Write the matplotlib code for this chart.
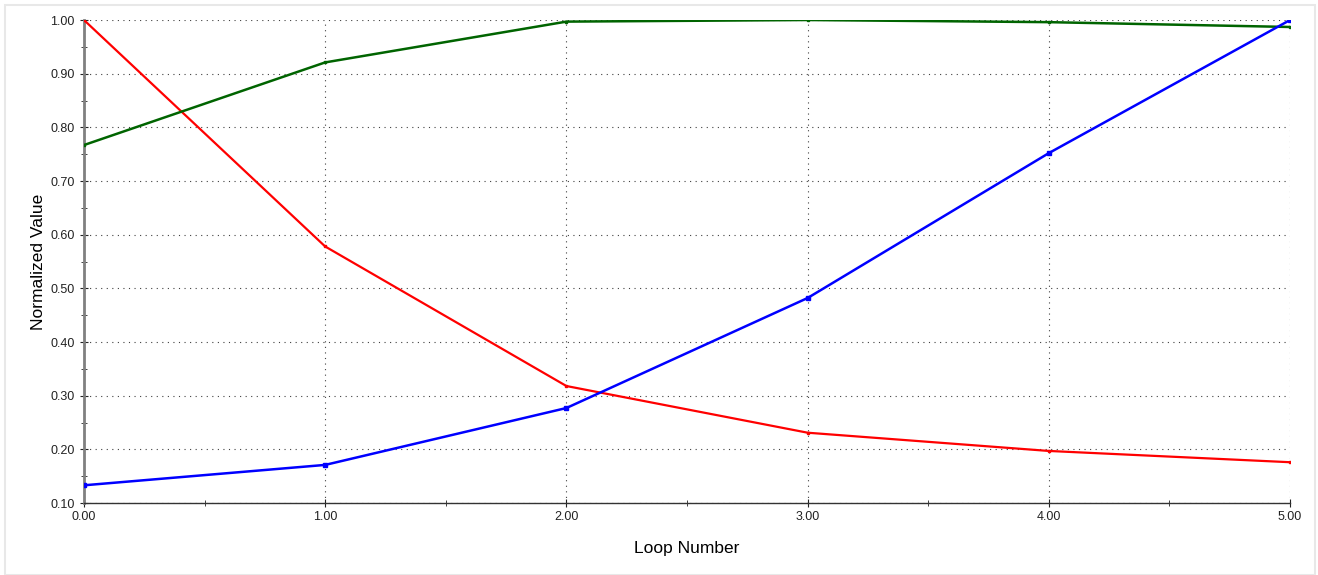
import numpy as np
import matplotlib.pyplot as plt
from matplotlib.ticker import MultipleLocator, FormatStrFormatter
from matplotlib.patches import Rectangle

plt.rcParams['font.family'] = ['Liberation Sans', 'DejaVu Sans']

loops = [0, 1, 2, 3, 4, 5]
red_vals = [1.000, 0.578, 0.318, 0.231, 0.197, 0.176]
green_vals = [0.767, 0.921, 0.997, 1.000, 0.996, 0.987]
blue_vals = [0.133, 0.171, 0.277, 0.482, 0.752, 1.000]

fig = plt.figure(figsize=(13.18, 5.75), dpi=100)
ax = fig.add_axes([0.0637, 0.1252, 0.9151, 0.84])

# light frame around the picture
fig.patches.append(Rectangle((0.004, 0.0), 0.994, 0.992, transform=fig.transFigure,
                             fill=False, edgecolor='#e8e8e8', lw=1.5))

ax.plot(loops, red_vals, color='#ff0000', lw=1.6, marker='s', ms=2, zorder=3)
ax.plot(loops, green_vals, color='#006400', lw=1.8, marker='s', ms=2, zorder=3)
ax.plot(loops, blue_vals, color='#0000ff', lw=1.8, marker='s', ms=2.5, zorder=4)

ax.set_xlim(0, 5)
ax.set_ylim(0.1, 1.0)
ax.xaxis.set_major_locator(MultipleLocator(1))
ax.xaxis.set_minor_locator(MultipleLocator(0.5))
ax.yaxis.set_major_locator(MultipleLocator(0.1))
ax.yaxis.set_minor_locator(MultipleLocator(0.05))
ax.xaxis.set_major_formatter(FormatStrFormatter('%.2f'))
ax.yaxis.set_major_formatter(FormatStrFormatter('%.2f'))

ax.grid(True, which='major', linestyle=(0, (1, 4)), color='#404040', lw=0.8)
for s in ['top', 'right']:
    ax.spines[s].set_visible(False)
ax.spines['left'].set_color('#808080')
ax.spines['left'].set_linewidth(2)
ax.spines['bottom'].set_color('#333333')
ax.spines['bottom'].set_linewidth(1)

ax.tick_params(which='both', direction='inout', labelsize=9, colors='#222222')
ax.tick_params(which='major', length=6)
ax.tick_params(which='minor', length=5)
ax.tick_params(axis='x', pad=3)

ax.set_xlabel('Loop Number', fontsize=12.5, labelpad=13)
ax.set_ylabel('Normalized Value', fontsize=12.5, labelpad=3)

fig.savefig('out.png', dpi=100)
